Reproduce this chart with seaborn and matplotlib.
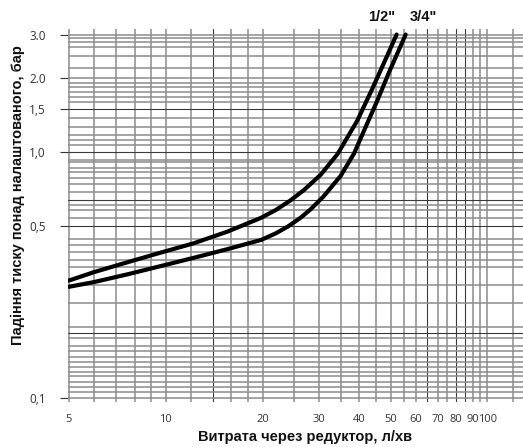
import matplotlib
matplotlib.use("Agg")
import numpy as np
import pandas as pd
import matplotlib.pyplot as plt
import seaborn as sns
from matplotlib.ticker import FixedLocator, FixedFormatter, NullLocator

# Pressure drop curves (flow l/min -> drop bar)
flow_half = [5.0, 6.0, 7.6, 9.6, 12.2, 15.6, 19.8, 22.0, 24.45, 26.9, 30.3,
             34.2, 39.4, 43.9, 48.8, 52.2]
drop_half = [0.30, 0.325, 0.356, 0.389, 0.425, 0.475, 0.54, 0.581, 0.636, 0.70,
             0.807, 0.98, 1.34, 1.81, 2.46, 3.0]
flow_3q = [5.0, 6.0, 7.6, 9.6, 12.2, 15.6, 19.8, 22.0, 24.0, 26.3, 28.2, 31.0,
           35.0, 38.5, 41.8, 45.5, 49.4, 55.7]
drop_3q = [0.283, 0.296, 0.318, 0.343, 0.371, 0.403, 0.439, 0.467, 0.498, 0.541,
           0.584, 0.661, 0.80, 0.986, 1.26, 1.62, 2.1, 3.0]
size_labels = ['1/2"', '3/4"']

x_ticks = [5, 10, 20, 30, 40, 50, 60, 70, 80, 90, 100]
x_tick_labels = ["5", "10", "20", "30", "40", "50", "60", "70", "80", "90", "100"]
y_ticks = [0.1, 0.5, 1.0, 1.5, 2.0, 3.0]
y_tick_labels = ["0,1", "0,5", "1,0", "1,5", "2.0", "3.0"]

# chart paper grid
x_grid = [5, 6, 7, 8, 9, 10, 12, 14, 16, 18, 20, 25, 30, 35, 40, 45, 50, 55,
          60, 65, 70, 75, 80, 85, 90, 95, 100, 120]
y_grid = [0.1, 0.106, 0.111, 0.116, 0.123, 0.128, 0.134, 0.14, 0.147, 0.155,
          0.163, 0.175, 0.184, 0.194, 0.243, 0.288, 0.341, 0.364, 0.392, 0.419,
          0.443, 0.5, 0.54, 0.58, 0.61, 0.64, 0.69, 0.74, 0.78, 0.83, 0.86,
          0.91, 0.93, 1.0, 1.07, 1.12, 1.17, 1.26, 1.37, 1.5, 1.6, 1.67, 1.75,
          1.84, 1.91, 2.0, 2.19, 2.46, 2.67, 2.8, 2.91, 3.0]
dark_y = [0.5, 1.0, 1.5, 0.64, 0.184]
dark_x = [14, 65, 80, 85]

sns.set_theme(style="white")
plt.rcParams['font.family'] = ['Liberation Sans', 'DejaVu Sans']

df = pd.concat([
    pd.DataFrame({"flow": flow_half, "drop": drop_half, "size": size_labels[0]}),
    pd.DataFrame({"flow": flow_3q, "drop": drop_3q, "size": size_labels[1]}),
])

fig = plt.figure(figsize=(5.23, 4.47), dpi=100)
ax = fig.add_axes([68 / 523, 1 - 402 / 447, 1 - 68 / 523, (402 - 29) / 447])

for xv in x_grid:
    if xv in dark_x:
        ax.axvline(xv, color='#3a3a3a', lw=0.8, zorder=1)
    else:
        ax.axvline(xv, color='#8c8c8c', lw=1.1, zorder=1)
for yv in y_grid:
    if yv in dark_y:
        ax.axhline(yv, color='#3a3a3a', lw=0.8, zorder=1)
    else:
        ax.axhline(yv, color='#8c8c8c', lw=1.1, zorder=1)

sns.lineplot(data=df, x="flow", y="drop", hue="size", palette=["black", "black"],
             estimator=None, sort=False, lw=3.0, legend=False, ax=ax, zorder=3)
for line in ax.get_lines()[-2:]:
    line.set_solid_joinstyle('round')
    line.set_solid_capstyle('round')

ax.set_xscale('log')
ax.set_yscale('log')
ax.set_xlim(4.97, 129)
ax.set_ylim(0.0963, 3.16)

for s in ax.spines.values():
    s.set_visible(False)

ax.xaxis.set_major_locator(FixedLocator(x_ticks))
ax.xaxis.set_major_formatter(FixedFormatter(x_tick_labels))
ax.xaxis.set_minor_locator(NullLocator())
ax.yaxis.set_major_locator(FixedLocator(y_ticks))
ax.yaxis.set_major_formatter(FixedFormatter(y_tick_labels))
ax.yaxis.set_minor_locator(NullLocator())
ax.tick_params(axis='x', length=0, pad=9, labelsize=8, labelcolor='#333333')
ax.tick_params(axis='y', left=True, length=6, width=0.8, color='#333333', pad=10,
               labelsize=8.5, labelcolor='#333333')
for lbl in ax.get_xticklabels() + ax.get_yticklabels():
    lbl.set_family(['Open Sans', 'DejaVu Sans'])

ax.set_xlabel("")
ax.set_ylabel("")
fig.text(305 / 523, 1 - 437 / 447, "Витрата через редуктор, л/хв", ha='center', va='center',
         fontsize=10.5, fontweight='bold', color='#111111')
fig.text(18 / 523, 1 - 195 / 447, "Падіння тиску понад налаштованого, бар", ha='center',
         va='center', rotation=90, fontsize=10.5, fontweight='bold', color='#111111')

fig.text(382 / 523, 1 - 17 / 447, size_labels[0], ha='center', va='center',
         fontsize=10.5, fontweight='bold', color='#111111')
fig.text(423 / 523, 1 - 17 / 447, size_labels[1], ha='center', va='center',
         fontsize=10.5, fontweight='bold', color='#111111')

fig.savefig("out.png", dpi=100)
